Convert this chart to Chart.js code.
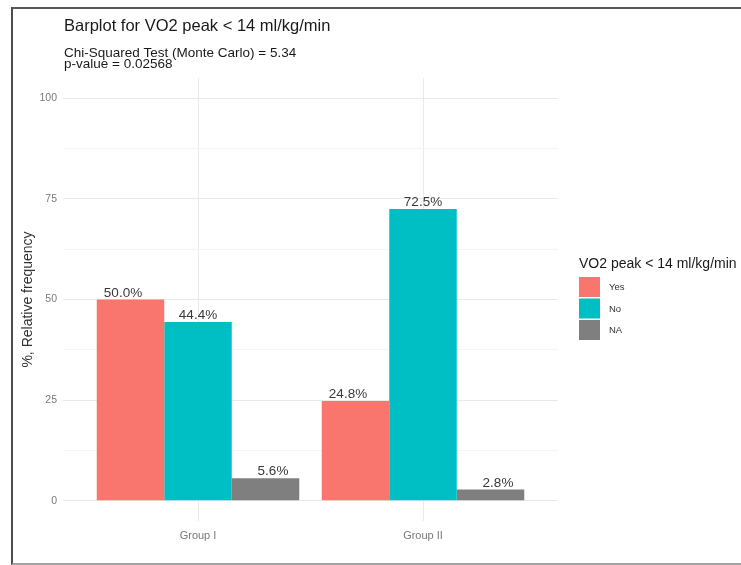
<!DOCTYPE html>
<html>
<head>
<meta charset="utf-8">
<title>Barplot for VO2 peak</title>
<script src="https://cdn.jsdelivr.net/npm/chart.js@4"></script>
<style>
    html, body { margin: 0; padding: 0; background: #fff; }
    #frame {
        position: absolute;
        left: 11px;
        top: 7px;
        width: 760px;
        height: 554px;
        border-left: 2px solid #4d4d4d;
        border-top: 2px solid #555;
        border-bottom: 2px solid #a3a3a3;
    }
    #wrap {
        position: absolute;
        left: 0;
        top: 0;
        width: 741px;
        height: 565px;
    }
</style>
</head>
<body>
<div id="frame"></div>
<div id="wrap"><canvas id="vo2Chart" width="741" height="565"></canvas></div>
<script>
const groups = ['Group I', 'Group II'];
const responses = ['Yes', 'No', 'NA'];
const yesPct = [50.0, 24.8];
const noPct = [44.4, 72.5];
const naPct = [5.6, 2.8];
const yMajorTicks = [0, 25, 50, 75, 100];
const yMinorTicks = [12.5, 37.5, 62.5, 87.5];

const fontFamily = "'Liberation Sans', Arial, sans-serif";
const barColours = ['#F8766D', '#00BFC4', '#7F7F7F'];
const labelDodge = 1.0;   // text is dodged a bit wider than the bars (0.9)

// groups sit at x = 1, 2 on a linear axis so the panel can pad 0.6 of a slot each side
const toPoints = values => values.map((v, i) => ({ x: i + 1, y: v }));

const seriesValues = [yesPct, noPct, naPct];

// title + subtitle, top left
const headerPlugin = {
    id: 'headerText',
    afterDraw(chart) {
        const ctx = chart.ctx;
        ctx.save();
        ctx.fillStyle = '#1a1a1a';
        ctx.textAlign = 'left';
        ctx.textBaseline = 'alphabetic';
        ctx.font = '16.5px ' + fontFamily;
        ctx.fillText('Barplot for VO2 peak < 14 ml/kg/min', 64, 31);
        ctx.font = '13.5px ' + fontFamily;
        ctx.fillText('Chi-Squared Test (Monte Carlo) = 5.34', 64, 57);
        ctx.fillText('p-value = 0.02568', 64, 68);
        ctx.restore();
    }
};

// percentage above each bar
const barLabelPlugin = {
    id: 'barLabels',
    afterDatasetsDraw(chart) {
        const ctx = chart.ctx;
        const xScale = chart.scales.x;
        const n = chart.data.datasets.length;
        ctx.save();
        ctx.font = '13.5px ' + fontFamily;
        ctx.fillStyle = '#3a3a3a';
        ctx.textAlign = 'center';
        ctx.textBaseline = 'alphabetic';
        chart.data.datasets.forEach((ds, di) => {
            const meta = chart.getDatasetMeta(di);
            meta.data.forEach((bar, i) => {
                const pt = ds.data[i];
                const shift = (di - (n - 1) / 2) * labelDodge / n;
                const x = xScale.getPixelForValue(pt.x + shift);
                ctx.fillText(pt.y.toFixed(1) + '%', x, bar.y - 3);
            });
        });
        ctx.restore();
    }
};

// ggplot-style legend on the right
const sideLegendPlugin = {
    id: 'sideLegend',
    afterDraw(chart) {
        const ctx = chart.ctx;
        const x0 = 579;
        ctx.save();
        ctx.fillStyle = '#1a1a1a';
        ctx.textAlign = 'left';
        ctx.textBaseline = 'alphabetic';
        ctx.font = '14px ' + fontFamily;
        ctx.fillText('VO2 peak < 14 ml/kg/min', x0, 268);
        ctx.font = '9.5px ' + fontFamily;
        ctx.textBaseline = 'middle';
        chart.data.datasets.forEach((ds, i) => {
            const top = 277 + i * 21.5;
            ctx.fillStyle = ds.backgroundColor;
            ctx.fillRect(x0, top, 21, 20);
            ctx.fillStyle = '#333';
            ctx.fillText(ds.label, x0 + 30, top + 10.5);
        });
        ctx.restore();
    }
};

new Chart(document.getElementById('vo2Chart'), {
    type: 'bar',
    data: {
        datasets: responses.map((r, i) => ({
            label: r,
            data: toPoints(seriesValues[i]),
            backgroundColor: barColours[i],
            borderWidth: 0,
            categoryPercentage: 0.9,
            barPercentage: 1
        }))
    },
    plugins: [headerPlugin, barLabelPlugin, sideLegendPlugin],
    options: {
        responsive: false,
        animation: false,
        layout: {
            padding: { left: 20, top: 78, right: 183, bottom: 0 }
        },
        plugins: {
            legend: { display: false },
            tooltip: { enabled: false }
        },
        scales: {
            x: {
                type: 'linear',
                min: 0.4,
                max: 2.6,
                offset: false,
                afterBuildTicks: scale => {
                    scale.ticks = groups.map((g, i) => ({ value: i + 1 }));
                },
                afterFit: scale => { scale.height = 44; },
                border: { display: false },
                grid: { offset: false, color: '#ebebeb', lineWidth: 1, drawTicks: false },
                ticks: {
                    padding: 8,
                    color: '#7a7a7a',
                    font: { family: fontFamily, size: 11 },
                    callback: v => groups[v - 1] || ''
                }
            },
            y: {
                min: -5,
                max: 105,
                afterBuildTicks: scale => {
                    scale.ticks = yMajorTicks.concat(yMinorTicks)
                        .sort((a, b) => a - b)
                        .map(v => ({ value: v }));
                },
                afterFit: scale => { scale.width = 43; },
                border: { display: false },
                grid: {
                    drawTicks: false,
                    color: ctx => yMajorTicks.includes(ctx.tick.value) ? '#e9e9e9' : '#f4f4f4',
                    lineWidth: 1
                },
                ticks: {
                    padding: 6,
                    color: '#7a7a7a',
                    font: { family: fontFamily, size: 10.5 },
                    callback: v => yMajorTicks.includes(v) ? v : ''
                },
                title: {
                    display: true,
                    text: '%, Relative frequency',
                    color: '#333',
                    padding: 0,
                    font: { family: fontFamily, size: 14 }
                }
            }
        }
    }
});
</script>
</body>
</html>
